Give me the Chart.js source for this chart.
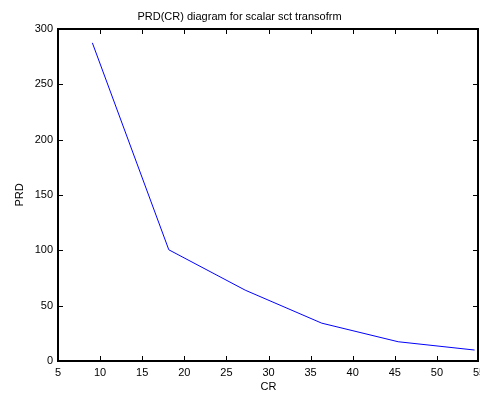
<!DOCTYPE html>
<html>
<head>
<meta charset="utf-8">
<script src="https://cdn.jsdelivr.net/npm/chart.js@4/dist/chart.umd.min.js"></script>
<style>
  html, body { margin: 0; padding: 0; background: #fff; }
  #wrap { width: 480px; height: 394px; }
</style>
</head>
<body>
<div id="wrap"><canvas id="plot" width="480" height="394"></canvas></div>
<script>
// values
var cr = [9.08, 18.16, 27.24, 36.32, 45.4, 54.48];
var prd = [287.5, 100.5, 64, 34.2, 17.4, 9.9];
var xTicks = [5, 10, 15, 20, 25, 30, 35, 40, 45, 50, 55];
var yTicks = [0, 50, 100, 150, 200, 250, 300];

var font = { family: "'Liberation Sans', Arial, sans-serif", size: 11 };

// matlab-style box with inward ticks, drawn as rects
var axesBox = {
  id: "axesBox",
  afterDraw: function (chart) {
    var ctx = chart.ctx;
    var a = chart.chartArea;
    var xs = chart.scales.x;
    var ys = chart.scales.y;
    var l = Math.round(a.left), r = Math.round(a.right);
    var t = Math.round(a.top), b = Math.round(a.bottom);
    ctx.save();
    ctx.fillStyle = "#000";
    ctx.fillRect(l - 1, t - 1, r - l + 1, 2);
    ctx.fillRect(l - 1, b - 1, r - l + 1, 2);
    ctx.fillRect(l - 1, t - 1, 2, b - t + 2);
    ctx.fillRect(r - 2, t - 1, 2, b - t + 2);
    xTicks.forEach(function (v) {
      var px = Math.round(xs.getPixelForValue(v));
      if (px > r - 2) px = r - 2;
      ctx.fillRect(px, b - 5, 1, 4);
      ctx.fillRect(px, t + 1, 1, 4);
    });
    yTicks.forEach(function (v) {
      var py = Math.round(ys.getPixelForValue(v));
      if (py > b - 1) py = b - 1;
      ctx.fillRect(l + 1, py, 4, 1);
      ctx.fillRect(r - 6, py, 4, 1);
    });
    ctx.restore();
  }
};

new Chart(document.getElementById("plot"), {
  type: "line",
  data: {
    datasets: [{
      data: cr.map(function (c, i) { return { x: c, y: prd[i] }; }),
      borderColor: "#0000ff",
      borderWidth: 1,
      pointRadius: 0,
      fill: false,
      tension: 0
    }]
  },
  options: {
    responsive: false,
    animation: false,
    layout: { padding: { left: 0, right: 1, top: 0, bottom: 0 } },
    plugins: {
      legend: { display: false },
      tooltip: { enabled: false },
      title: {
        display: true,
        text: "PRD(CR) diagram for scalar sct transofrm",
        color: "#000",
        font: { family: font.family, size: 11, weight: "normal" },
        padding: { top: 10, bottom: 5.8 }
      }
    },
    scales: {
      x: {
        type: "linear",
        min: 5,
        max: 55,
        afterBuildTicks: function (s) { s.ticks = xTicks.map(function (v) { return { value: v }; }); },
        afterFit: function (s) { s.height = 33; s.paddingLeft = 0; s.paddingRight = 0; },
        grid: { display: false, drawTicks: false },
        border: { display: false },
        ticks: { color: "#000", font: font, padding: 5, maxRotation: 0 },
        title: { display: true, text: "CR", color: "#000", font: font, padding: { top: 0, bottom: 0 } }
      },
      y: {
        min: 0,
        max: 300,
        afterBuildTicks: function (s) { s.ticks = yTicks.map(function (v) { return { value: v }; }); },
        afterFit: function (s) { s.width = 58; s.paddingTop = 0; s.paddingBottom = 0; },
        grid: { display: false, drawTicks: false },
        border: { display: false },
        ticks: { color: "#000", font: font, padding: 5 },
        title: { display: true, text: "PRD", color: "#000", font: font, padding: { top: 13, bottom: 0 } }
      }
    }
  },
  plugins: [axesBox]
});
</script>
</body>
</html>
